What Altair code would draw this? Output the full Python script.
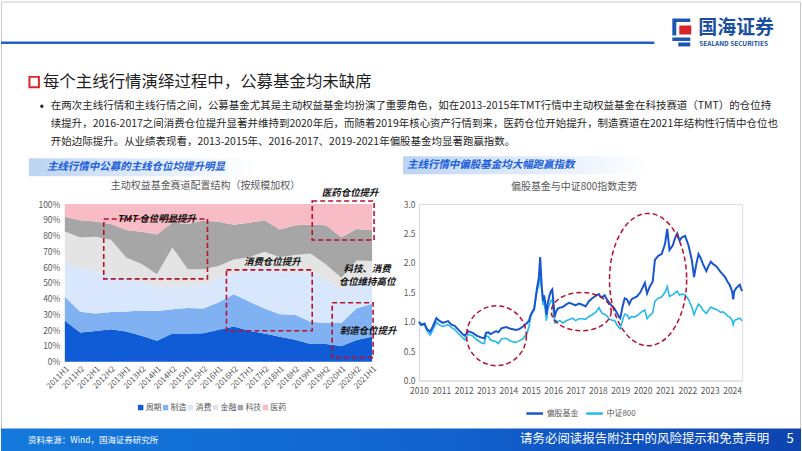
import altair as alt
import pandas as pd

FONT = "Noto Sans CJK SC"

# ---------------- data: left chart (share of active equity funds by sector, %) ----------------
periods = ["2011H1", "2011H2", "2012H1", "2012H2", "2013H1", "2013H2", "2014H1", "2014H2",
           "2015H1", "2015H2", "2016H1", "2016H2", "2017H1", "2017H2", "2018H1", "2018H2",
           "2019H1", "2019H2", "2020H1", "2020H2", "2021H1"]
sectors = ["周期", "制造", "消费", "金融", "科技", "医药"]
cyc = [26.0, 18.5, 19.5, 20.6, 19.1, 16.5, 13.3, 17.8, 17.8, 18.0, 20.3, 22.3, 19.6, 17.9, 15.8, 13.9, 11.2, 11.2, 10.0, 13.7, 15.8]
mfg = [15.2, 13.2, 11.0, 10.9, 12.7, 15.9, 18.8, 15.5, 16.3, 15.8, 17.2, 20.4, 18.5, 15.8, 14.3, 15.8, 14.1, 13.4, 14.6, 20.2, 21.0]
cons = [21.8, 28.3, 26.5, 22.5, 20.2, 17.6, 15.9, 13.7, 13.9, 15.2, 15.5, 13.3, 19.9, 25.3, 26.9, 26.3, 31.7, 27.4, 21.4, 16.1, 15.2]
fin = [19.6, 18.8, 22.2, 23.3, 14.1, 11.9, 7.5, 25.5, 10.7, 9.7, 7.7, 8.8, 8.3, 10.7, 9.3, 11.6, 11.6, 9.7, 7.3, 14.2, 11.8]
tech = [9.3, 11.0, 9.8, 10.0, 17.4, 20.5, 25.2, 15.8, 28.6, 30.7, 28.1, 22.1, 21.9, 20.0, 17.5, 18.9, 18.3, 24.8, 25.6, 20.0, 19.6]
med = [8.1, 10.2, 11.0, 12.7, 16.5, 17.6, 19.3, 11.7, 12.7, 10.6, 11.2, 13.1, 11.8, 10.3, 16.2, 13.5, 13.1, 13.5, 21.1, 15.8, 16.6]
sector_colors = ["#0f5cd6", "#80b2f3", "#d8e7fb", "#e4e4e4", "#a6a6a6", "#f8bcc6"]

# ---------------- data: right chart (net value, 2010 = 1) ----------------
years = [2010.0, 2010.1, 2010.25, 2010.35, 2010.5, 2010.62, 2010.78, 2010.9, 2011.07, 2011.3,
         2011.45, 2011.6, 2011.75, 2011.9, 2012.05, 2012.2, 2012.4, 2012.6, 2012.8, 2012.92,
         2013.0, 2013.1, 2013.2, 2013.45, 2013.55, 2013.7, 2013.9, 2014.1, 2014.35, 2014.5,
         2014.65, 2014.83, 2014.92, 2015.0, 2015.15, 2015.25, 2015.3, 2015.36, 2015.42, 2015.46,
         2015.5, 2015.55, 2015.6, 2015.65, 2015.7, 2015.76, 2015.84, 2015.9, 2015.96, 2016.02,
         2016.07, 2016.12, 2016.2, 2016.3, 2016.43, 2016.6, 2016.73, 2016.87, 2017.0, 2017.15,
         2017.3, 2017.45, 2017.6, 2017.75, 2017.9, 2018.05, 2018.1, 2018.2, 2018.3, 2018.4,
         2018.5, 2018.6, 2018.75, 2018.85, 2018.95, 2019.0, 2019.1, 2019.2, 2019.3, 2019.4,
         2019.5, 2019.6, 2019.75, 2019.9, 2020.0, 2020.1, 2020.2, 2020.3, 2020.45, 2020.55,
         2020.7, 2020.85, 2021.0, 2021.1, 2021.2, 2021.35, 2021.45, 2021.55, 2021.65, 2021.75,
         2021.9, 2022.05, 2022.2, 2022.3, 2022.4, 2022.5, 2022.6, 2022.7, 2022.85, 2022.95,
         2023.05, 2023.15, 2023.3, 2023.5, 2023.6, 2023.7, 2023.8, 2023.9, 2024.0, 2024.05,
         2024.1, 2024.2, 2024.35, 2024.4, 2024.45]
fund = [1.00, 0.95, 0.97, 0.88, 0.83, 0.92, 1.06, 1.02, 0.98, 1.01,
        0.95, 0.93, 0.87, 0.81, 0.76, 0.84, 0.81, 0.76, 0.73, 0.72,
        0.81, 0.82, 0.79, 0.84, 0.82, 0.89, 0.91, 0.88, 0.86, 0.88,
        0.92, 0.98, 1.02, 1.12, 1.22, 1.50, 1.62, 1.75, 2.10, 1.80,
        1.55, 1.35, 1.45, 1.30, 1.12, 1.32, 1.45, 1.52, 1.55, 1.30,
        1.08, 1.16, 1.22, 1.24, 1.25, 1.30, 1.32, 1.30, 1.28, 1.31,
        1.29, 1.26, 1.35, 1.40, 1.44, 1.47, 1.43, 1.42, 1.45, 1.38,
        1.33, 1.28, 1.22, 1.15, 1.08, 1.06, 1.25, 1.40, 1.38, 1.30,
        1.38, 1.40, 1.43, 1.50, 1.58, 1.66, 1.48, 1.58, 1.68, 2.05,
        2.12, 2.15, 2.32, 2.58, 2.22, 2.30, 2.42, 2.50, 2.38, 2.43,
        2.46, 2.30, 2.05, 1.76, 1.98, 2.15, 2.08, 1.98, 1.86, 1.95,
        2.02, 1.98, 1.94, 1.84, 1.80, 1.75, 1.68, 1.62, 1.52, 1.38,
        1.52, 1.58, 1.63, 1.56, 1.52]
csi800 = [1.00, 0.94, 0.95, 0.85, 0.77, 0.86, 0.99, 0.95, 0.92, 0.95,
          0.90, 0.87, 0.80, 0.75, 0.69, 0.79, 0.76, 0.69, 0.64, 0.63,
          0.76, 0.75, 0.69, 0.66, 0.63, 0.71, 0.72, 0.67, 0.65, 0.68,
          0.71, 0.80, 0.92, 1.10, 1.20, 1.45, 1.55, 1.62, 1.80, 1.65,
          1.50, 1.28, 1.35, 1.20, 1.02, 1.20, 1.30, 1.36, 1.37, 1.15,
          0.97, 1.02, 1.00, 1.02, 0.98, 1.02, 1.04, 1.06, 1.02, 1.05,
          1.05, 1.04, 1.09, 1.12, 1.16, 1.24, 1.20, 1.14, 1.13, 1.10,
          1.05, 1.03, 1.02, 0.95, 0.90, 0.88, 1.02, 1.13, 1.12, 1.05,
          1.09, 1.08, 1.10, 1.15, 1.18, 1.20, 1.05, 1.10, 1.15, 1.35,
          1.40, 1.42, 1.50, 1.60, 1.43, 1.46, 1.49, 1.52, 1.45, 1.47,
          1.46, 1.38, 1.25, 1.12, 1.22, 1.30, 1.26, 1.20, 1.14, 1.20,
          1.25, 1.23, 1.21, 1.16, 1.17, 1.14, 1.10, 1.08, 1.02, 0.95,
          1.02, 1.04, 1.06, 1.04, 1.01]
series_names = ["偏股基金", "中证800"]
series_colors = ["#1a55d0", "#27b8ea"]

# ---------------- texts ----------------
title_text = "每个主线行情演绎过程中，公募基金均未缺席"
bullet_lines = [
    "在两次主线行情和主线行情之间，公募基金尤其是主动权益基金均扮演了重要角色，如在2013-2015年TMT行情中主动权益基金在科技赛道（TMT）的仓位持",
    "续提升，2016-2017之间消费仓位提升显著并维持到2020年后，而随着2019年核心资产行情到来，医药仓位开始提升，制造赛道在2021年结构性行情中仓位也",
    "开始边际提升。从业绩表现看，2013-2015年、2016-2017、2019-2021年偏股基金均显著跑赢指数。",
]
left_banner = "主线行情中公募的主线仓位均提升明显"
right_banner = "主线行情中偏股基金均大幅跑赢指数"
left_title = "主动权益基金赛道配置结构（按规模加权）"
right_title = "偏股基金与中证800指数走势"
source_text = "资料来源：Wind，国海证券研究所"
disclaimer = "请务必阅读报告附注中的风险提示和免责声明"
page_no = "5"

# ---------------- tables ----------------
rows = []
for si, (name, vals) in enumerate(zip(sectors, [cyc, mfg, cons, fin, tech, med])):
    for p, v in zip(periods, vals):
        rows.append({"period": p, "sector": name, "idx": si, "value": v})
share = pd.DataFrame(rows)

lines = pd.DataFrame({
    "t": years + years,
    "v": fund + csi800,
    "series": [series_names[0]] * len(years) + [series_names[1]] * len(years),
})

one = pd.DataFrame({"k": [0]})

# layout (canvas pixel positions of the two plot areas)
LO = (64, 203)
RO = (419, 203)
LW, LH = 308, 158
RW, RH = 324, 177
RED = "#b8102e"
GRAY = "#595959"


def text_layer(s, x, y, size, origin, color="#262626", align="left", weight="normal", style="normal"):
    return alt.Chart(one).mark_text(
        text=s, font=FONT, fontSize=size, color=color, align=align, baseline="middle",
        fontWeight=weight, fontStyle=style,
    ).encode(x=alt.value(x - origin[0]), y=alt.value(y - origin[1]))


def rect_layer(x1, y1, x2, y2, origin, **kw):
    return alt.Chart(one).mark_rect(**kw).encode(
        x=alt.value(x1 - origin[0]), x2=alt.value(x2 - origin[0]),
        y=alt.value(y1 - origin[1]), y2=alt.value(y2 - origin[1]),
    )


def box_layer(x1, y1, x2, y2, origin):
    return rect_layer(x1, y1, x2, y2, origin, fillOpacity=0, stroke=RED, strokeWidth=1.6,
                      strokeDash=[5, 3])


def ellipse_layer(cx, cy, w, h, origin):
    m = max(w, h)
    a, b = w / m, h / m
    k = 0.5523
    f = lambda v: f"{v:.4f}"
    path = (f"M {f(a)} 0 C {f(a)} {f(k*b)} {f(k*a)} {f(b)} 0 {f(b)} "
            f"C {f(-k*a)} {f(b)} {f(-a)} {f(k*b)} {f(-a)} 0 "
            f"C {f(-a)} {f(-k*b)} {f(-k*a)} {f(-b)} 0 {f(-b)} "
            f"C {f(k*a)} {f(-b)} {f(a)} {f(-k*b)} {f(a)} 0 Z")
    return alt.Chart(one).mark_point(
        shape=path, size=m * m, filled=False, stroke=RED, strokeWidth=1.5,
        strokeDash=[5, 3], opacity=1,
    ).encode(x=alt.value(cx - origin[0]), y=alt.value(cy - origin[1]))


def hgrad(stops):
    return alt.LinearGradient(
        gradient="linear", x1=0, x2=1, y1=0, y2=0,
        stops=[alt.GradientStop(color=c, offset=o) for o, c in stops],
    )


# ---------------- left panel ----------------
area = alt.Chart(share).mark_area(interpolate="linear").encode(
    x=alt.X("period:O", sort=periods, scale=alt.Scale(type="point", padding=0),
            axis=alt.Axis(title=None, labelAngle=-45, labelFontSize=8, labelColor=GRAY,
                          labelFont=FONT, domain=False, ticks=False, labelPadding=3,
                          labelOverlap=False, zindex=2)),
    y=alt.Y("value:Q", stack="normalize", scale=alt.Scale(domain=[0, 1], nice=False),
            axis=alt.Axis(title=None, format=".0%", values=[i / 10 for i in range(11)],
                          labelFontSize=8.5, labelColor=GRAY, labelFont=FONT, domain=False,
                          ticks=False, grid=False, labelPadding=5, zindex=2)),
    color=alt.Color("sector:N", scale=alt.Scale(domain=sectors, range=sector_colors),
                    legend=alt.Legend(orient="none", legendX=72, legendY=200,
                                      direction="horizontal", title=None, symbolType="square",
                                      symbolSize=30, symbolStrokeWidth=0, labelFontSize=8,
                                      labelColor=GRAY, labelFont=FONT, columnPadding=0,
                                      labelOffset=1, symbolOffset=0)),
    order=alt.Order("idx:Q", sort="ascending"),
)

left_layers = [
    rect_layer(0, 0, 802, 451, LO, color="white"),
    rect_layer(0.5, 0.5, 801.5, 450.5, LO, fillOpacity=0, stroke="#c9c9c9", strokeWidth=1),
    # header
    rect_layer(0, 40, 655, 42.5, LO, color="#2160c4"),
    rect_layer(673, 17, 691, 20.5, LO, color="#1d56b0"),
    rect_layer(673, 20.5, 677, 34, LO, color="#1d56b0"),
    rect_layer(680, 24, 692, 33, LO, color="#d8232a"),
    rect_layer(673, 36, 691, 39.5, LO, color="#1d56b0"),
    rect_layer(679, 41, 691, 45, LO, color="#1d56b0"),
    text_layer("国海证券", 699, 27, 19, LO, color="#1a4f9f", weight="bold"),
    text_layer("SEALAND SECURITIES", 700, 43, 6.5, LO, color="#1a4f9f", weight="bold"),
    # section title
    rect_layer(28.5, 75.5, 38, 86, LO, color="white", stroke="#d9262c", strokeWidth=2),
    text_layer(title_text, 42, 81, 16.5, LO, color="#1f1f1f"),
    alt.Chart(one).mark_point(filled=True, size=12, color="#262626", opacity=1).encode(
        x=alt.value(41 - LO[0]), y=alt.value(105 - LO[1])),
]
for i, line in enumerate(bullet_lines):
    left_layers.append(text_layer(line, 50, 105 + 18 * i, 10.5, LO, color="#262626"))
left_layers += [
    rect_layer(28, 157, 255, 175, LO, color=hgrad([(0, "#bcd3f4"), (0.55, "#e3edfb"), (1, "#ffffff")])),
    text_layer(left_banner, 46, 166, 10.5, LO, color="#1b5fd8", weight="bold", style="italic"),
    text_layer(left_title, 205, 185, 10, LO, color=GRAY, align="center"),
    area,
    box_layer(103, 218, 207, 278, LO),
    box_layer(226, 269, 312, 330, LO),
    box_layer(312, 200, 374, 239, LO),
    box_layer(332, 302, 373, 357, LO),
    text_layer("TMT 仓位明显提升", 156, 218, 9.5, LO, color="#111111", align="center", weight="bold", style="italic"),
    text_layer("消费仓位提升", 272, 261, 9.5, LO, color="#111111", align="center", weight="bold", style="italic"),
    text_layer("医药仓位提升", 350, 192, 9.5, LO, color="#111111", align="center", weight="bold", style="italic"),
    text_layer("制造仓位提升", 368, 330, 9.5, LO, color="#111111", align="center", weight="bold", style="italic"),
    text_layer("科技、消费", 367, 268, 9.5, LO, color="#111111", align="center", weight="bold", style="italic"),
    text_layer("仓位维持高位", 367, 281, 9.5, LO, color="#111111", align="center", weight="bold", style="italic"),
    # footer
    rect_layer(0, 428, 802, 451, LO, color=hgrad([(0, "#1479db"), (0.55, "#1162cf"), (1, "#0d44b0")])),
    text_layer(source_text, 27, 440, 8.5, LO, color="white"),
    text_layer(disclaimer, 770, 439, 12.5, LO, color="white", align="right"),
    text_layer(page_no, 791, 439, 13, LO, color="white", align="center"),
]
left = alt.layer(*left_layers).properties(width=LW, height=LH)

# ---------------- right panel ----------------
base_r = alt.Chart(lines).encode(
    x=alt.X("t:Q", scale=alt.Scale(domain=[2010, 2024.45], nice=False, zero=False),
            axis=alt.Axis(title=None, values=list(range(2010, 2025)), format="d",
                          labelFontSize=8.5, labelColor=GRAY, labelFont=FONT,
                          domainColor="#d9d9d9", ticks=False, grid=False, labelPadding=6,
                          labelFlush=False, labelOverlap=False)),
    y=alt.Y("v:Q", scale=alt.Scale(domain=[0, 3], nice=False),
            axis=alt.Axis(title=None, values=[0, 0.5, 1, 1.5, 2, 2.5, 3], format=".1f",
                          labelFontSize=8.5, labelColor=GRAY, labelFont=FONT,
                          domainColor="#d9d9d9", ticks=False, grid=False, labelPadding=4,
                          labelFlush=False)),
    color=alt.Color("series:N", scale=alt.Scale(domain=series_names, range=series_colors),
                    legend=alt.Legend(orient="none", legendX=106, legendY=200,
                                      direction="horizontal", title=None, symbolType="stroke",
                                      symbolSize=280, symbolStrokeWidth=2.5, labelFontSize=8,
                                      labelColor=GRAY, labelFont=FONT, columnPadding=2,
                                      labelOffset=2)),
)
csi_line = base_r.transform_filter(alt.datum.series == series_names[1]).mark_line(strokeWidth=1.6)
fund_line = base_r.transform_filter(alt.datum.series == series_names[0]).mark_line(strokeWidth=2)

right = alt.layer(
    rect_layer(403, 155, 650, 173, RO, color=hgrad([(0, "#bcd3f4"), (0.55, "#e3edfb"), (1, "#ffffff")])),
    text_layer(right_banner, 407, 164, 10.5, RO, color="#1b5fd8", weight="bold", style="italic"),
    text_layer(right_title, 574.5, 186, 10, RO, color=GRAY, align="center"),
    csi_line,
    fund_line,
    ellipse_layer(496.7, 335, 60, 60, RO),
    ellipse_layer(581.7, 310.8, 60, 38.3, RO),
    ellipse_layer(648.7, 278.7, 77.3, 132.7, RO),
).properties(width=RW, height=RH)

chart = alt.hconcat(left, right, spacing=RO[0] - LO[0] - LW, bounds="flush").resolve_scale(
    color="independent"
).properties(padding=0).configure_view(stroke=None).configure(font=FONT)

chart.save("out.html", embed_options={"renderer": "svg", "actions": False})
